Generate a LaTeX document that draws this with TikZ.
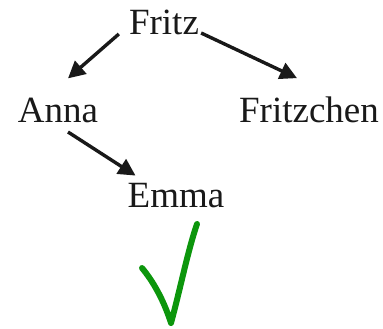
\documentclass[tikz,border=0pt]{standalone}
\usepackage{fontspec}
\setmainfont{Liberation Serif}
\usetikzlibrary{arrows.meta}
\definecolor{checkgreen}{RGB}{12,150,12}
\definecolor{ink}{RGB}{25,25,25}
\begin{document}
\begin{tikzpicture}[x=1pt,y=-1pt,
  person/.style={inner sep=0pt,anchor=base,font=\fontsize{37}{42}\selectfont,text=ink},
  arr/.style={draw=ink,line width=3.4pt,-{Triangle[length=17pt,width=17pt]}},
  tick/.style={draw=checkgreen,line width=6pt,line cap=round,line join=round}]
\useasboundingbox[fill=white] (0,0) rectangle (383,329);
\node[person] (fritz) at (164,35) {Fritz};
\node[person] (anna) at (58,122) {Anna};
\node[person] (fritzchen) at (309,122) {Fritzchen};
\node[person] (emma) at (176,207) {Emma};
\draw[arr] ([shift={(-10,-1)}]fritz.base west) -- ([shift={(10,-19)}]anna.north);
\draw[arr] ([shift={(2,-2)}]fritz.base east) -- ([shift={(-12,-18)}]fritzchen.north);
\draw[arr] ([shift={(10,10)}]anna.base) -- ([shift={(8,-7)}]emma.north west);
\coordinate (t1) at (142,268);
\coordinate (t2) at (171,323);
\coordinate (t3) at (197,224);
\draw[tick] (t1) .. controls (152,280) and (163,298) .. (t2) .. controls (180,290) and (188,250) .. (t3);
\end{tikzpicture}
\end{document}
